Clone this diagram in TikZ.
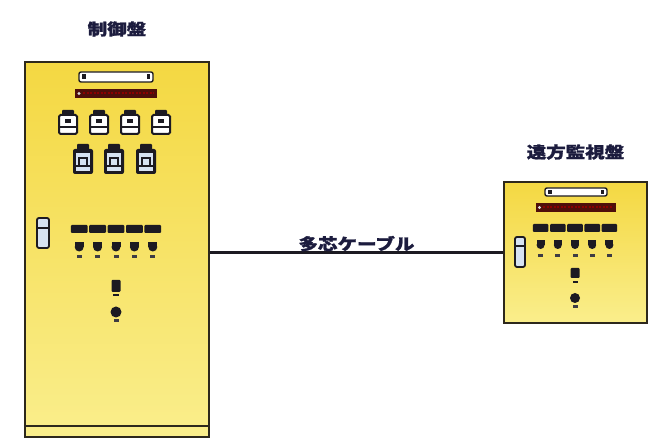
\documentclass[tikz,border=0pt]{standalone}
\usepackage{fontspec}
\newfontfamily\jpfont{Noto Sans CJK JP}[BoldFeatures={FakeBold=1.2}]
\usetikzlibrary{positioning}

\definecolor{panelface}{RGB}{244,216,66}
\definecolor{panelpale}{RGB}{250,238,140}
\definecolor{panelline}{RGB}{45,40,28}
\definecolor{partdark}{RGB}{28,26,34}
\definecolor{lampred}{RGB}{78,14,10}
\definecolor{glass}{RGB}{214,226,242}
\definecolor{titleink}{RGB}{28,28,62}

\tikzset{
  panel/.style={draw=panelline, line width=2.4pt, top color=panelface,
                bottom color=panelpale, inner sep=0pt},
  title/.style={font=\jpfont\bfseries\fontsize{16}{16}\selectfont,
                text=titleink, xscale=1.22, inner sep=1pt},
  cable/.style={draw=partdark, line width=2.2pt},
}

\begin{document}
\begin{tikzpicture}[x=1pt, y=-1pt]
  \useasboundingbox (0,0) rectangle (657,438);

  % Control cabinet
  \node[panel, minimum width=184pt, minimum height=375pt] (ctrl) at (117,249.5) {};
  \draw[panelline, line width=2.2pt] (ctrl.west |- 0,426) -- (ctrl.east |- 0,426);
  \node[title] (ctrltitle) at (117,29) {制御盤};

  % indicator bar and lamp strip
  \draw[partdark, line width=1.4pt, fill=white, rounded corners=2pt] (79,72) rectangle (153,82);
  \fill[partdark] (82,74.5) rectangle (85.5,79.5);
  \fill[partdark] (146.5,74.5) rectangle (150,79.5);
  \fill[lampred] (75,89) rectangle (157,98);
  \draw[red!55!black, line width=2pt, dash pattern=on 2pt off 1.5pt] (83,93.5) -- (154,93.5);
  \fill[gray!30] (79,93.5) circle (1.6);

  % meters
  \foreach \x in {68,99,130,161}{
    \fill[partdark, rounded corners=1pt] (\x-6,110) rectangle (\x+6,116);
    \draw[partdark, line width=2pt, fill=white, rounded corners=1.5pt] (\x-9,115) rectangle (\x+9,134);
    \fill[partdark] (\x-3,119) rectangle (\x+3,123);
    \draw[partdark, line width=1.4pt] (\x-9,127) -- (\x+9,127);
  }
  \foreach \x in {83,114,146}{
    \fill[partdark, rounded corners=1pt] (\x-6,144) rectangle (\x+6,151);
    \fill[partdark, rounded corners=2pt] (\x-10,149) rectangle (\x+10,174);
    \fill[glass] (\x-7,153) rectangle (\x+7,171);
    \draw[partdark, line width=1.4pt] (\x-4,166) -- (\x-4,158) -- (\x+4,158) -- (\x+4,166);
    \draw[partdark, line width=1.2pt] (\x-7,166) -- (\x+7,166);
  }

  % selector switch
  \draw[partdark, line width=1.8pt, fill=glass, rounded corners=2pt] (37,218) rectangle (49,248);
  \draw[partdark, line width=1.2pt] (37,228) -- (49,228);

  % pilot lamps and push buttons
  \foreach \x in {79.2,97.6,116,134.4,152.8}{
    \fill[partdark, rounded corners=1pt] (\x-8.4,225) rectangle (\x+8.4,233);
    \fill[partdark] (\x-4.5,242) rectangle (\x+4.5,247);
    \fill[partdark] (\x,247) circle (4.5);
    \fill[partdark!85] (\x-2.5,255) rectangle (\x+2.5,258);
  }
  \fill[partdark, rounded corners=1pt] (111.5,280) rectangle (120.5,292);
  \fill[partdark] (113,294) rectangle (119,296.5);
  \fill[partdark] (116,312) circle (5.5);
  \fill[partdark!85] (113.5,319) rectangle (118.5,322);

  % Remote monitoring panel
  \node[panel, minimum width=143pt, minimum height=141pt] (remote) at (575.5,252.5) {};
  \node[title] (remotetitle) at (575.5,152) {遠方監視盤};

  \draw[partdark, line width=1.4pt, fill=white, rounded corners=2pt] (545,188) rectangle (607,196);
  \fill[partdark] (548,190) rectangle (551.5,194);
  \fill[partdark] (600.5,190) rectangle (604,194);
  \fill[lampred] (536,203) rectangle (616,212);
  \draw[red!55!black, line width=2pt, dash pattern=on 2pt off 1.5pt] (543,207.5) -- (613,207.5);
  \fill[gray!30] (539.5,207.5) circle (1.6);

  \draw[partdark, line width=1.8pt, fill=glass, rounded corners=2pt] (515,237) rectangle (525,267);
  \draw[partdark, line width=1.2pt] (515,246) -- (525,246);

  \foreach \x in {540.6,557.8,575,592.2,609.4}{
    \fill[partdark, rounded corners=1pt] (\x-7.8,224) rectangle (\x+7.8,232);
    \fill[partdark] (\x-4,240) rectangle (\x+4,245);
    \fill[partdark] (\x,245) circle (4);
    \fill[partdark!85] (\x-2.5,254) rectangle (\x+2.5,257);
  }
  \fill[partdark, rounded corners=1pt] (570.5,268) rectangle (579.5,278);
  \fill[partdark] (572.5,281) rectangle (577.5,283.5);
  \fill[partdark] (575,298) circle (5);
  \fill[partdark!85] (572.5,305) rectangle (577.5,308);

  % multi-core cable
  \draw[cable] (remote.west -| ctrl.east) -- (remote.west)
    node[title, midway, above=-1pt] (cablelabel) {多芯ケーブル};
\end{tikzpicture}
\end{document}
